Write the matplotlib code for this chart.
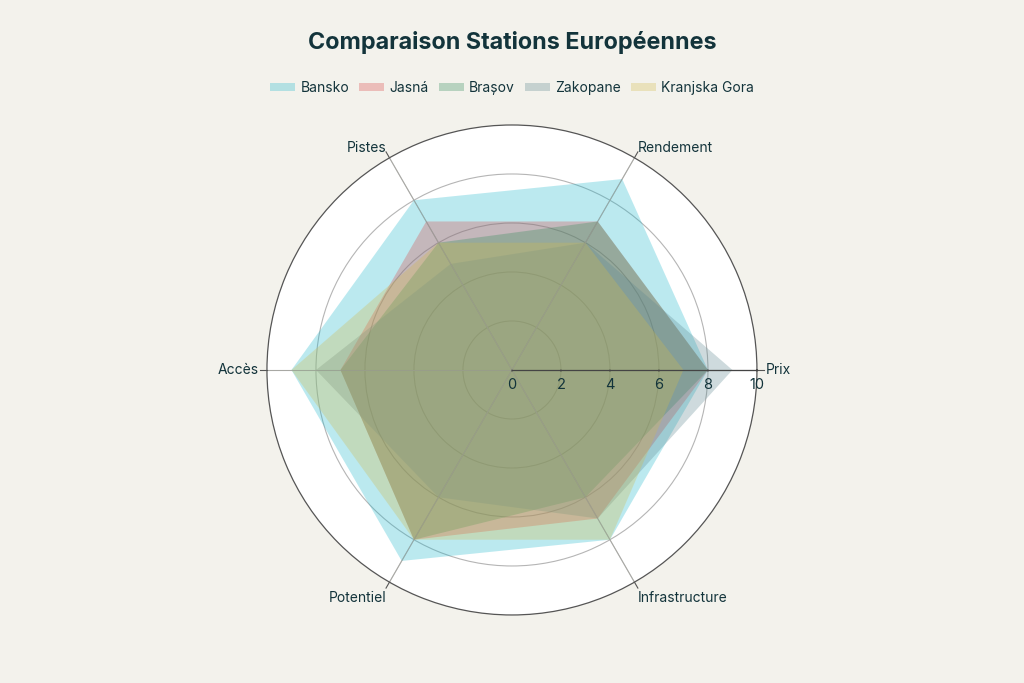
"""
Radar chart comparing European ski resorts.
"""

import numpy as np
import matplotlib.pyplot as plt
from matplotlib.patches import Patch

plt.rcParams['font.family'] = ['Inter', 'DejaVu Sans']

# Data
categories = ['Prix', 'Rendement', 'Pistes', 'Accès', 'Potentiel', 'Infrastructure']
stations = ['Bansko', 'Jasná', 'Brașov', 'Zakopane', 'Kranjska Gora']
bansko = [8, 9, 8, 9, 9, 8]
jasna = [8, 7, 7, 7, 8, 7]
brasov = [8, 7, 6, 7, 8, 6]
zakopane = [9, 6, 5, 8, 6, 7]
kranjska = [7, 6, 6, 9, 8, 8]
radial_ticks = [0, 2, 4, 6, 8, 10]

series = [bansko, jasna, brasov, zakopane, kranjska]
colors = ['#1FB8CD', '#DB4545', '#2E8B57', '#5D878F', '#D2BA4C']

bg = '#F3F2EC'
text_color = '#13343B'

fig = plt.figure(figsize=(10.24, 6.83), dpi=100, facecolor=bg)
ax = fig.add_axes([0.2607, 0.0996, 0.4785, 0.7174], projection='polar')
ax.set_facecolor('white')

angles = np.deg2rad(np.arange(len(categories)) * 60.0)

for vals, color in zip(series, colors):
    th = np.append(angles, angles[0])
    rr = np.append(vals, vals[0])
    ax.fill(th, rr, color=color, alpha=0.3, linewidth=0, zorder=2)

ax.set_ylim(0, 10)
ax.set_yticks(radial_ticks[1:-1])
ax.set_yticklabels([])
ax.set_xticks(angles)
ax.set_xticklabels([])
ax.grid(True, color='#b5b5b5', linewidth=0.8)
ax.spines['polar'].set_color('#555555')
ax.spines['polar'].set_linewidth(0.9)
ax.tick_params(length=0)

# spokes over the fills + small outer ticks
for a in angles:
    ax.plot([a, a], [0, 10], color='#a0a098', linewidth=0.7, alpha=0.6, zorder=3)
    ax.plot([a, a], [10, 10.28], color='#555555', linewidth=0.8, zorder=4, clip_on=False)

# radial axis line
ax.plot([0, 0], [0, 10.0], color='#444444', linewidth=0.9, zorder=4, clip_on=False)

# radial tick labels under the axis line
for v in radial_ticks:
    ax.annotate(str(v), xy=(0, v), xytext=(0, -8), textcoords='offset pixels',
                ha='center', va='top', fontsize=10.5, color=text_color,
                annotation_clip=False, zorder=5)
    ax.annotate('', xy=(0, v), xytext=(0, -4), textcoords='offset pixels',
                arrowprops=dict(arrowstyle='-', color='#444444', lw=0.8),
                annotation_clip=False)

# angular labels
placement = [('left', (2, 0)), ('left', (0, 4)), ('right', (0, 4)),
             ('right', (-1, 0)), ('right', (0, -10)), ('left', (0, -10))]
for a, lab, (ha, off) in zip(angles, categories, placement):
    ax.annotate(lab, xy=(a, 10.28), xytext=off, textcoords='offset pixels',
                ha=ha, va='center', fontsize=10, color=text_color,
                annotation_clip=False)

fig.text(0.5, 0.938, 'Comparaison Stations Européennes', ha='center', va='center',
         fontsize=16.8, fontweight='bold', color=text_color)

handles = [Patch(facecolor=c, alpha=0.3, edgecolor='none') for c in colors]
fig.legend(handles, stations, loc='center', bbox_to_anchor=(0.5, 0.871), ncol=5,
           frameon=False, fontsize=10, handlelength=1.8, handleheight=0.55,
           columnspacing=0.7, handletextpad=0.4, labelcolor=text_color)

plt.savefig('out.png', dpi=100, facecolor=bg)
plt.close()
